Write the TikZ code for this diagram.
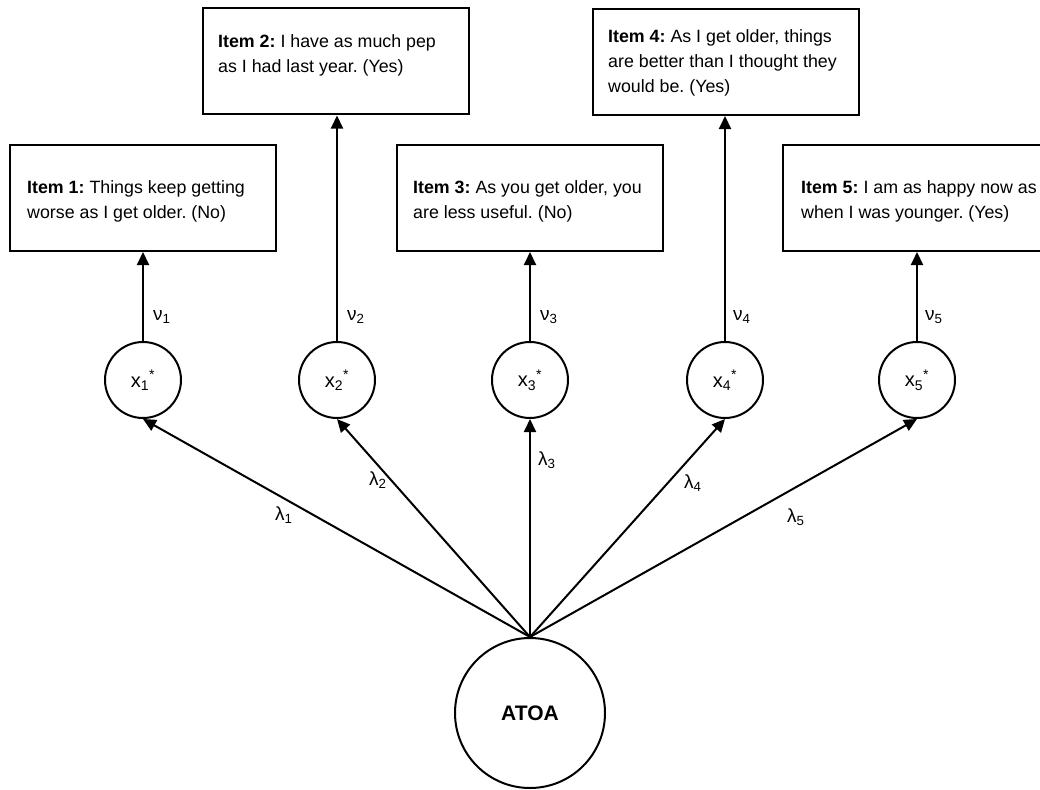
\documentclass[tikz,border=0pt]{standalone}
\usepackage{fontspec}
\setmainfont{Liberation Sans}
\usetikzlibrary{arrows.meta}
\frenchspacing
\newcommand\myitemtext[1]{{\fontsize{17.8}{25}\selectfont\frenchspacing\begin{tabular}[t]{@{}l@{}}#1\end{tabular}}}
\begin{document}
\begin{tikzpicture}[x=1pt,y=-1pt,
  lw/.style={line width=2pt},
  itembox/.style={draw,lw,rectangle,minimum width=266pt,minimum height=106pt,inner sep=0pt},
  itemtext/.style={anchor=base west,inner sep=0pt},
  latent/.style={draw,lw,circle,minimum size=76pt,inner sep=0pt,font=\fontsize{20}{24}\selectfont},
  factor/.style={draw,lw,circle,minimum size=150pt,inner sep=0pt,font=\fontsize{21}{25}\selectfont\bfseries},
  arr/.style={lw,-{Triangle[length=13pt,width=12pt]}},
  coef/.style={anchor=base west,inner sep=0pt,font=\fontsize{19}{23}\selectfont}
]
\useasboundingbox (0,0) rectangle (1040,789);
\clip (0,0) rectangle (1040,789);
\fill[white] (0,0) rectangle (1040,789);

% item boxes
\node[itembox] (b1) at (143,198) {};
\node[itembox] (b2) at (336,61.5) {};
\node[itembox] (b3) at (530,198) {};
\node[itembox] (b4) at (725.5,62) {};
\node[itembox,minimum width=268pt] (b5) at (917,198) {};

\node[itemtext] (t1) at (27,193) {\myitemtext{\textbf{Item 1:} Things keep getting\\worse as I get older. (No)}};
\node[itemtext] (t2) at (218,48) {\myitemtext{\textbf{Item 2:} I have as much pep\\as I had last year. (Yes)}};
\node[itemtext] (t3) at (413,193) {\myitemtext{\textbf{Item 3:} As you get older, you\\are less useful. (No)}};
\node[itemtext] (t4) at (608,43) {\myitemtext{\textbf{Item 4:} As I get older, things\\are better than I thought they\\would be. (Yes)}};
\node[itemtext] (t5) at (801,193) {\myitemtext{\textbf{Item 5:} I am as happy now as\\when I was younger. (Yes)}};

% latent response circles
\node[latent] (c1) at (143,380) {x\textsubscript{1}\textsuperscript{*}};
\node[latent] (c2) at (337,380) {x\textsubscript{2}\textsuperscript{*}};
\node[latent] (c3) at (530,380) {x\textsubscript{3}\textsuperscript{*}};
\node[latent] (c4) at (725,380) {x\textsubscript{4}\textsuperscript{*}};
\node[latent] (c5) at (917,380) {x\textsubscript{5}\textsuperscript{*}};

% factor
\node[factor] (f) at (530,713) {ATOA};

% arrows to items and from the factor
\foreach \i in {1,...,5}{
  \draw[arr] (c\i.north) -- (c\i.north |- b\i.south);
  \draw[arr] (f.north) -- (c\i.south);
}

% nu labels
\node[coef] (n1) at (153,320) {ν\textsubscript{1}};
\node[coef] (n2) at (347,320) {ν\textsubscript{2}};
\node[coef] (n3) at (540,320) {ν\textsubscript{3}};
\node[coef] (n4) at (733,320) {ν\textsubscript{4}};
\node[coef] (n5) at (925,320) {ν\textsubscript{5}};

% lambda labels
\node[coef] (l1) at (275,520) {λ\textsubscript{1}};
\node[coef] (l2) at (369,485) {λ\textsubscript{2}};
\node[coef] (l3) at (538,465) {λ\textsubscript{3}};
\node[coef] (l4) at (684,488) {λ\textsubscript{4}};
\node[coef] (l5) at (787,522) {λ\textsubscript{5}};
\end{tikzpicture}
\end{document}
